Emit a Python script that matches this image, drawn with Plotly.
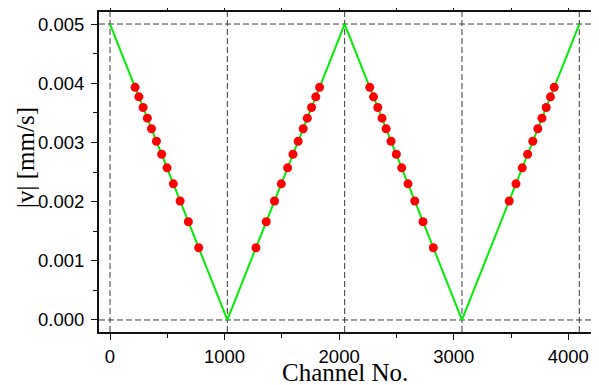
import plotly.graph_objects as go

# Green line (velocity profile) vertices
line_channel = [0, 1024, 2048, 3072, 4096]
line_velocity = [0.005, 0.0, 0.005, 0.0, 0.005]

# Red measurement points
dot_channel = [219, 252, 289, 326, 362, 405, 451, 498, 553, 612, 684, 774,
               1274, 1364, 1436, 1495, 1550, 1597, 1642, 1686, 1722, 1759, 1796, 1829,
               2267, 2300, 2337, 2374, 2410, 2453, 2499, 2546, 2601, 2660, 2732, 2822,
               3484, 3543, 3598, 3645, 3690, 3734, 3770, 3807, 3844, 3877]
dot_velocity = [0.00393, 0.00377, 0.00359, 0.00341, 0.00323, 0.00302, 0.00280, 0.00257, 0.00230, 0.00201, 0.00166, 0.00122,
                0.00122, 0.00166, 0.00201, 0.00230, 0.00257, 0.00280, 0.00302, 0.00323, 0.00341, 0.00359, 0.00377, 0.00393,
                0.00393, 0.00377, 0.00359, 0.00341, 0.00323, 0.00302, 0.00280, 0.00257, 0.00230, 0.00201, 0.00166, 0.00122,
                0.00201, 0.00230, 0.00257, 0.00280, 0.00302, 0.00323, 0.00341, 0.00359, 0.00377, 0.00393]

# Reference (dashed) lines
vline_channels = [0, 1024, 2048, 3072, 4096]
hline_velocities = [0.0, 0.005]

x_ticks = [0, 1000, 2000, 3000, 4000]
y_ticks = [0.000, 0.001, 0.002, 0.003, 0.004, 0.005]

fig = go.Figure()
fig.add_trace(go.Scatter(x=line_channel, y=line_velocity, mode="lines",
                         line=dict(color="#00ee00", width=2), showlegend=False))
fig.add_trace(go.Scatter(x=dot_channel, y=dot_velocity, mode="markers",
                         marker=dict(color="#ff0000", size=9, line=dict(width=0)),
                         showlegend=False))

for xc in vline_channels:
    fig.add_shape(type="line", xref="x", yref="paper", x0=xc, x1=xc, y0=0, y1=1,
                  line=dict(color="#3a3a3a", width=1, dash="6px,3px"), layer="below")
for yv in hline_velocities:
    fig.add_shape(type="line", xref="paper", yref="y", x0=0, x1=1, y0=yv, y1=yv,
                  line=dict(color="#3a3a3a", width=1, dash="6px,3px"), layer="below")

tickfont = dict(family="Liberation Sans, Arial, sans-serif", size=18.5, color="#000000")
fig.update_xaxes(range=[-96, 4198], tickvals=x_ticks, ticktext=[str(v) for v in x_ticks],
                 ticks="outside", ticklen=6, tickwidth=1.3, tickcolor="#111111",
                 minor=dict(dtick=500, tick0=0, ticks="outside", ticklen=4, tickwidth=1.3, tickcolor="#111111"),
                 showline=True, linecolor="#111111", linewidth=2, mirror="ticks",
                 showgrid=False, zeroline=False, tickfont=tickfont, ticklabelstandoff=1,
                 automargin=False)
fig.update_yaxes(range=[-0.000203, 0.005203], tickvals=y_ticks, ticktext=["%.3f" % v for v in y_ticks],
                 ticks="outside", ticklen=6, tickwidth=1.3, tickcolor="#111111",
                 minor=dict(dtick=0.0005, tick0=0, ticks="outside", ticklen=4, tickwidth=1.3, tickcolor="#111111"),
                 showline=True, linecolor="#111111", linewidth=2, mirror="ticks",
                 showgrid=False, zeroline=False, tickfont=tickfont, ticklabelstandoff=3,
                 automargin=False)

titlefont = dict(family="Liberation Serif, Times New Roman, serif", size=25, color="#000000")
fig.add_annotation(text="Channel No.", xref="paper", yref="paper", x=0.5, y=0,
                   yshift=-25, yanchor="top", showarrow=False, font=titlefont)
fig.add_annotation(text="|v| [mm/s]", xref="paper", yref="paper", x=0, y=0.5,
                   xshift=-74, yshift=14, xanchor="center", textangle=-90, showarrow=False, font=titlefont)

# page body has an 8px margin, so the figure is 8px smaller and shifted
fig.update_layout(width=591, height=377, margin=dict(l=91, r=8, t=4, b=53),
                  plot_bgcolor="white", paper_bgcolor="white")
fig.write_html("out.html")
